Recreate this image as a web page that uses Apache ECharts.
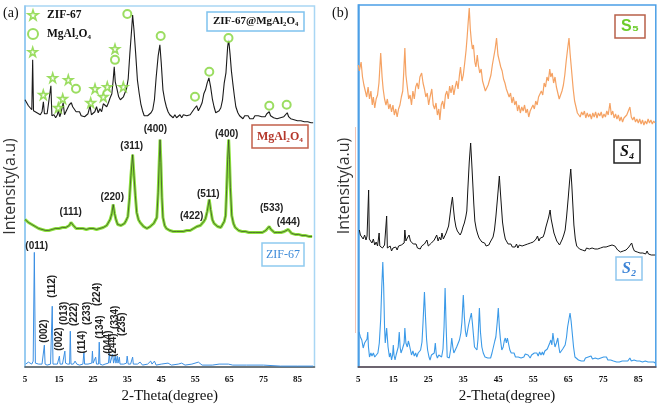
<!DOCTYPE html>
<html>
<head>
<meta charset="utf-8">
<script src="https://cdn.jsdelivr.net/npm/echarts@6/dist/echarts.min.js"></script>
<style>html,body{margin:0;padding:0;background:#fff}#c{width:661px;height:409px}</style>
</head>
<body>
<div id="c"></div>
<script>
// ---------- DATA (2-Theta in degrees, intensity in a.u. incl. stacking offset) ----------
const xTicks = [5, 15, 25, 35, 45, 55, 65, 75, 85];

// Panel (a) : ZIF-67@MgAl2O4 (black)
const patZifMg = [[5,268],[5.5,266],[6,262],[6.5,261],[7,258],[7.25,308],[7.5,257],[8,258],[8.5,255],[9,256],[9.5,253],[10,256],[10.4,266],[10.7,254],[11,252],[11.5,254],[12,253],[12.6,282],[12.9,252],[13.5,253],[14,250],[14.5,253],[14.8,257],[15.2,251],[15.6,255],[16.2,265],[16.6,253],[17,256],[17.5,258],[18,263],[18.6,265],[19,261],[19.5,259],[20,256],[20.5,254],[21,256],[21.5,252],[22,254],[22.5,251],[23,252],[23.5,254],[24.1,262],[24.5,253],[25,252],[25.5,256],[26,261],[26.5,255],[27,259],[27.5,256],[28,264],[28.5,266],[29,261],[29.5,265],[30,270],[30.5,274],[30.9,288],[31.2,301],[31.5,286],[32,279],[32.5,271],[33,268],[33.5,267],[33.9,271],[34.3,273],[34.8,279],[35.3,289],[35.8,315],[36.3,338],[36.6,353],[37,338],[37.5,314],[38,288],[38.5,275],[39,264],[39.5,257],[40,252],[40.5,250],[41,252],[41.5,251],[42,255],[42.5,258],[43,268],[43.5,290],[44.1,312],[44.6,323],[45,305],[45.5,278],[46,268],[46.5,261],[47,256],[47.5,253],[48,253],[48.5,250],[49,253],[49.5,250],[50,252],[50.5,253],[51,250],[51.5,253],[52,251],[52.5,252],[53,250],[53.5,253],[54,255],[54.5,258],[55,260],[55.4,262],[55.9,257],[56.5,261],[57,265],[57.5,274],[58,278],[58.5,285],[59,290],[59.5,281],[60,269],[60.5,261],[61,255],[61.5,254],[62,257],[62.5,260],[63,268],[63.5,285],[64,295],[64.5,321],[64.8,328],[65.2,314],[65.6,297],[66,285],[66.5,271],[66.9,261],[67.5,255],[68,252],[68.5,250],[69,249],[69.5,252],[70,250],[70.5,252],[71,249],[71.5,251],[72,249],[72.5,252],[73,250],[73.5,252],[74,254],[74.5,251],[75,252],[75.5,251],[76,254],[76.7,256],[77.1,252],[77.5,254],[78,250],[78.5,251],[79,249],[79.5,251],[80,250],[80.5,252],[81,251],[81.5,253],[82,255],[82.4,251],[83,249],[83.5,250],[84,248],[84.5,249],[85,247],[85.5,248],[86,247],[86.5,248],[87,246],[87.5,247],[88,246],[88.5,246],[89,245],[89.6,245]];

// Panel (a) : MgAl2O4 (green)
const patSpinel = [[5,148],[5.5,147],[6,145],[6.5,146],[7,143],[7.5,144],[8,141],[8.5,142],[9,139],[9.5,141],[10,138],[10.5,139],[11,137],[11.5,139],[12,137],[12.5,139],[13,138],[13.5,136],[14,139],[14.5,137],[15,139],[15.5,138],[16,140],[16.5,138],[17,140],[17.5,141],[18,142],[18.5,145],[18.8,146],[19.2,142],[19.6,140],[20,139],[20.5,137],[21,139],[21.5,137],[22,139],[22.5,137],[23,138],[23.5,136],[24,139],[24.5,137],[25,139],[25.5,137],[26,138],[26.5,137],[27,139],[27.5,138],[28,140],[28.5,141],[29,142],[29.5,144],[30,148],[30.5,154],[30.9,163],[31.3,154],[31.7,148],[32.2,143],[32.7,141],[33.2,142],[33.7,142],[34.2,144],[34.7,147],[35.2,151],[35.7,170],[36.1,192],[36.6,213],[37,192],[37.4,172],[37.8,155],[38.3,148],[38.8,145],[39.3,143],[39.8,141],[40.3,140],[40.8,139],[41.3,140],[41.8,141],[42.3,142],[42.8,144],[43.3,146],[43.7,150],[44.1,175],[44.4,205],[44.65,228],[44.9,205],[45.2,170],[45.5,150],[46,142],[46.5,139],[47,138],[47.5,137],[48,138],[48.5,136],[49,137],[49.5,136],[50,137],[50.5,136],[51,137],[51.5,136],[52,138],[52.5,137],[53,138],[53.5,137],[54,138],[54.5,139],[55,139],[55.5,141],[56,141],[56.5,142],[57,143],[57.5,146],[58,149],[58.5,156],[59.1,168],[59.5,158],[60,148],[60.5,144],[61,142],[61.5,141],[62,140],[62.5,140],[63,142],[63.5,146],[63.9,152],[64.2,178],[64.5,208],[64.8,228],[65.05,208],[65.3,180],[65.7,152],[66.2,144],[66.7,140],[67.2,138],[67.7,137],[68.2,136],[68.7,136],[69.2,135],[69.7,136],[70.2,135],[70.7,135],[71.2,134],[71.7,135],[72.2,134],[72.7,135],[73.2,134],[73.7,135],[74.2,135],[74.7,135],[75.2,136],[75.7,137],[76.2,139],[76.7,141],[77.2,138],[77.7,136],[78.2,135],[78.7,134],[79.2,135],[79.7,134],[80.2,135],[80.7,135],[81.2,136],[81.7,137],[82.3,138],[82.8,136],[83.3,134],[83.8,133],[84.3,133],[84.8,132],[85.3,133],[85.8,132],[86.3,132],[86.8,131],[87.3,132],[87.8,131],[88.3,131],[88.8,131],[89.3,131]];

// Panel (a) : ZIF-67 (blue)
const patZif = [[5.2,3],[6,5],[6.5,4],[7,3],[7.4,6],[7.74,115],[8.05,4],[8.5,3],[9,3],[9.5,2],[10,3],[10.45,3],[10.68,22],[10.9,3],[11.5,2],[12,3],[12.5,3],[12.78,3],[13.0,61],[13.22,3],[13.8,2],[14.5,3],[14.9,3],[15.1,11],[15.3,3],[16.0,3],[16.5,4],[16.7,16],[16.9,4],[17.5,3],[18.1,3],[18.3,36],[18.5,3],[19.2,3],[19.7,6],[20.2,3],[21,2],[22,3],[22.3,15],[22.5,3],[23.5,3],[24.6,4],[24.8,16],[25,4],[25.5,3],[25.75,10],[26,3],[26.6,3],[26.8,25],[27,3],[27.8,2],[28.5,3],[29.5,4],[29.76,14],[30,4],[30.5,4],[30.74,13],[31,4],[31.3,4],[31.5,11],[31.7,4],[31.9,4],[32.1,11],[32.3,4],[32.5,4],[32.7,10],[32.9,3],[34,3],[34.8,4],[35,11],[35.3,3],[36,3],[36.4,4],[36.6,10],[36.8,3],[38,3],[38.8,5],[39.5,2],[41,3],[41.9,6],[42.3,3],[43,6],[43.5,2],[45,3],[47,4],[48,2],[50,3],[51,4],[52,2],[54,3],[55.9,5],[57,2],[60,2],[62,3],[64.7,3],[66,2],[70,2],[75,2],[80,1],[85,1],[89.6,1]];

// Panel (a) annotations
const zifStarAt = [[7.26,316],[10.37,273],[13.13,290],[14.78,260],[16.07,269],[17.71,288],[24.29,265],[25.55,279],[27.99,271],[29.16,281],[31.42,319],[33.86,281]];
const spinelCircleAt = [[19.97,279],[31.42,308],[35.04,354],[44.84,332],[54.91,271],[59.11,296],[64.75,330],[76.73,262],[81.83,263]];
const spinelHkl = ['(111)','(220)','(311)','(400)','(422)','(511)','(400)','(533)','(444)'];
const spinelHklAt = [[18.42,155],[30.63,170],[36.33,221],[43.3,238],[53.94,151],[58.82,173],[64.22,233],[77.43,159],[82.31,145]];
const zifHkl = ['(011)','(002)','(112)','(002)','(013)','(222)','(114)','(233)','(224)','(134)','(044)','(244)','(334)','(235)'];
const zifHklAt = [[8.44,121],[10.67,36],[13.02,81],[14.98,28],[16.54,54],[19.39,53],[21.94,25],[23.41,54],[26.23,73],[27.02,40],[29.46,25],[30.84,22],[31.42,50],[33.68,43]];

// Panel (b) : S5 (orange)
const patS5 = [[5,302],[5.3,296],[5.8,305],[6.2,290],[6.6,282],[7,276],[7.4,270],[7.8,280],[8.2,268],[8.6,276],[9,262],[9.3,270],[9.7,259],[10.1,268],[10.5,272],[10.9,284],[11.4,314],[11.8,290],[12.1,278],[12.5,268],[12.9,262],[13.3,268],[13.7,258],[14.1,263],[14.5,255],[14.9,262],[15.3,252],[15.7,258],[16.1,250],[16.5,258],[16.9,262],[17.3,270],[17.7,276],[18,296],[18.3,319],[18.6,292],[19,280],[19.4,268],[19.8,272],[20.2,262],[20.6,276],[21,268],[21.4,280],[21.8,284],[22.2,278],[22.6,290],[23.1,294],[23.5,284],[23.9,278],[24.3,270],[24.7,274],[25.1,262],[25.5,270],[26,278],[26.4,262],[26.8,258],[27.2,264],[27.6,252],[28,258],[28.3,247],[28.7,262],[29.1,266],[29.5,258],[29.9,272],[30.3,276],[30.7,268],[31.1,281],[31.5,274],[31.9,282],[32.3,272],[32.7,280],[33.1,286],[33.5,278],[33.9,292],[34.2,300],[34.6,286],[35,292],[35.4,304],[35.8,317],[36.1,330],[36.4,345],[36.7,359],[37,338],[37.3,326],[37.6,318],[37.9,322],[38.3,305],[38.6,300],[39,312],[39.3,302],[39.7,294],[40.1,298],[40.5,286],[40.9,284],[41.3,276],[41.7,274],[42.1,282],[42.5,284],[42.9,292],[43.3,302],[43.7,310],[44.1,318],[44.5,329],[44.9,312],[45.3,306],[45.7,300],[46.1,296],[46.5,288],[46.9,284],[47.3,278],[47.7,280],[48.1,270],[48.5,274],[48.9,264],[49.3,270],[49.7,262],[50.1,266],[50.5,256],[50.9,262],[51.3,254],[51.7,260],[52.1,256],[52.5,262],[52.9,254],[53.3,258],[53.7,250],[54.1,256],[54.5,258],[54.9,262],[55.3,258],[55.7,266],[56.1,262],[56.5,270],[56.9,268],[57.3,276],[57.7,272],[58.1,284],[58.5,280],[58.9,290],[59.3,286],[59.7,298],[60,290],[60.4,294],[60.8,284],[61.2,290],[61.6,280],[62,278],[62.4,268],[62.8,270],[63.2,276],[63.6,282],[64,292],[64.4,306],[64.8,318],[65.2,329],[65.5,314],[65.8,302],[66.1,290],[66.4,278],[66.8,266],[67.2,260],[67.6,254],[68,256],[68.4,250],[68.8,255],[69.2,252],[69.6,256],[70,249],[70.4,254],[70.8,250],[71.2,253],[71.6,248],[72,254],[72.4,250],[72.8,255],[73.2,249],[73.6,254],[74,251],[74.4,255],[74.8,249],[75.2,253],[75.6,250],[76,256],[76.4,252],[76.9,264],[77.3,252],[77.7,256],[78.1,249],[78.5,253],[78.9,248],[79.3,252],[79.7,246],[80.1,250],[80.5,245],[80.9,249],[81.3,247],[81.7,252],[82.1,250],[82.6,260],[83,250],[83.4,247],[83.8,250],[84.2,245],[84.6,248],[85,244],[85.4,248],[85.8,243],[86.2,247],[86.6,242],[87,246],[87.4,243],[87.8,248],[88.2,244],[88.6,247],[89,243],[89.4,246],[89.8,244]];

// Panel (b) : S4 (black)
const patS4 = [[5.3,137],[5.6,132],[6,134],[6.4,128],[6.8,132],[7.2,127],[7.5,131],[7.75,130],[7.95,177],[8.15,128],[8.5,130],[8.9,124],[9.3,128],[9.7,122],[10.1,125],[10.5,121],[10.75,122],[10.95,134],[11.15,121],[11.5,123],[11.9,119],[12.5,122],[12.9,120],[13.1,151],[13.3,119],[13.7,118],[14.1,121],[14.5,116],[14.9,119],[15.3,117],[15.7,120],[16.1,117],[16.5,121],[16.9,119],[17.3,122],[17.7,121],[18.1,124],[18.3,137],[18.6,126],[19,129],[19.5,132],[19.9,126],[20.3,127],[20.7,123],[21.1,121],[21.5,123],[21.9,119],[22.3,121],[22.7,118],[23.1,121],[23.5,119],[23.9,123],[24.3,121],[24.6,127],[25,121],[25.5,120],[25.9,124],[26.3,122],[26.7,127],[27.1,125],[27.4,132],[27.8,126],[28.2,130],[28.6,127],[28.9,134],[29.3,128],[29.7,131],[30.1,134],[30.4,136],[30.8,141],[31.2,152],[31.55,162],[31.9,170],[32.2,158],[32.5,148],[32.9,140],[33.3,136],[33.7,134],[34.1,132],[34.5,135],[34.9,140],[35.3,144],[35.7,150],[36,156],[36.3,178],[36.7,205],[37.1,224],[37.4,205],[37.7,184],[38,163],[38.3,146],[38.7,138],[39.1,133],[39.5,129],[39.9,127],[40.3,125],[40.7,123],[41.1,124],[41.5,121],[41.9,123],[42.3,122],[42.7,125],[43.1,127],[43.5,130],[43.9,137],[44.3,150],[44.8,170],[45.3,191],[45.6,175],[45.9,160],[46.2,145],[46.6,135],[47,128],[47.4,126],[47.8,123],[48.2,122],[48.6,123],[49,120],[49.4,122],[49.8,120],[50.2,123],[50.6,119],[51,122],[51.4,120],[51.8,121],[52.2,119],[52.6,122],[53,120],[53.4,123],[53.8,121],[54.2,124],[54.6,122],[55,125],[55.4,124],[55.8,128],[56.2,131],[56.6,126],[57,129],[57.4,127],[57.8,130],[58.2,134],[58.6,140],[59,145],[59.4,150],[59.8,157],[60.1,148],[60.5,141],[60.9,134],[61.3,130],[61.7,126],[62.1,124],[62.5,122],[62.9,125],[63.3,128],[63.7,132],[64.1,137],[64.5,150],[65,170],[65.35,185],[65.7,198],[66,182],[66.3,162],[66.6,142],[67,128],[67.4,121],[67.8,119],[68.2,118],[68.6,120],[69,117],[69.4,118],[69.8,116],[70.2,119],[70.6,117],[71,118],[71.4,116],[71.8,119],[72.2,117],[72.6,118],[73,116],[73.4,118],[73.8,117],[74.2,119],[74.6,117],[75,120],[75.4,118],[75.8,120],[76.2,119],[76.6,121],[77,120],[77.5,122],[77.9,124],[78.3,121],[78.7,119],[79.1,117],[79.5,116],[79.9,115],[80.3,117],[80.7,116],[81.1,118],[81.5,117],[81.9,119],[82.3,120],[82.7,122],[83.1,124],[83.5,119],[83.9,116],[84.3,117],[84.7,115],[85.1,116],[85.5,114],[85.9,116],[86.3,114],[86.7,115],[87.1,113],[87.5,116],[87.9,113],[88.3,114],[88.7,112],[89.1,114],[89.5,112],[89.8,112]];

// Panel (b) : S2 (blue)
const patS2 = [[5.2,35],[5.6,30],[6,27],[6.4,19],[6.8,24],[7.2,24],[7.5,28],[7.7,35],[7.9,20],[8.2,10],[8.6,14],[8.9,11],[9.3,14],[9.7,10],[10.2,10],[10.6,14],[11,24],[11.4,48],[11.7,80],[12,105],[12.25,80],[12.5,40],[12.7,24],[13.1,39],[13.5,20],[13.9,10],[14.2,14],[14.5,7],[14.8,12],[15,22],[15.2,12],[15.5,7],[15.8,12],[16.1,14],[16.4,20],[16.7,35],[16.95,20],[17.2,14],[17.6,18],[17.9,17],[18.1,24],[18.3,39],[18.6,24],[19,20],[19.3,26],[19.6,22],[19.9,17],[20.2,12],[20.6,16],[21,11],[21.4,14],[21.7,10],[22.1,14],[22.5,12],[22.8,17],[23.2,25],[23.5,45],[23.9,75],[24.2,50],[24.5,28],[24.8,17],[25.2,10],[25.5,7],[25.9,12],[26.4,10],[26.7,14],[27,24],[27.3,12],[27.6,9],[28,12],[28.4,10],[28.8,10],[29.2,18],[29.5,40],[29.8,79],[30.1,40],[30.4,10],[30.7,12],[31,9],[31.4,18],[31.7,29],[32,20],[32.3,14],[32.7,16],[33.1,20],[33.5,18],[33.9,27],[34.3,34],[34.6,45],[35,72],[35.3,50],[35.6,36],[35.9,30],[36.2,36],[36.5,42],[36.9,48],[37.3,54],[37.6,44],[37.9,32],[38.2,20],[38.6,18],[38.9,17],[39.2,28],[39.6,59],[39.9,35],[40.3,20],[40.7,14],[41.2,10],[41.6,12],[42,9],[42.4,11],[42.8,9],[43.2,14],[43.6,20],[44,26],[44.3,30],[44.7,45],[45,59],[45.3,40],[45.6,28],[46,17],[46.4,20],[46.7,26],[47,29],[47.3,24],[47.6,29],[48,22],[48.3,17],[48.7,14],[49.1,12],[49.5,14],[49.9,10],[50.3,12],[50.7,10],[51.1,12],[51.5,9],[51.9,11],[52.3,10],[52.7,13],[53.1,15],[53.5,12],[53.8,10],[54.1,9],[54.5,12],[54.9,10],[55.3,14],[55.6,12],[56,14],[56.4,11],[56.8,15],[57.2,12],[57.6,15],[57.9,12],[58.3,16],[58.7,15],[59,18],[59.3,20],[59.7,24],[60,27],[60.3,22],[60.6,34],[60.9,26],[61.2,20],[61.6,24],[62,29],[62.3,20],[62.6,14],[63,16],[63.4,18],[63.8,20],[64.1,22],[64.5,30],[64.8,40],[65.2,48],[65.5,54],[65.8,46],[66.1,35],[66.5,20],[66.9,10],[67.3,8],[67.9,7],[68.3,9],[68.7,6],[69.1,8],[69.5,6],[69.9,9],[70.3,7],[70.7,10],[71.1,8],[71.5,11],[71.9,8],[72.3,7],[72.7,9],[73.1,7],[73.5,8],[73.9,6],[74.3,9],[74.7,7],[75.1,10],[75.5,8],[75.9,10],[76.3,7],[76.7,9],[77.1,7],[77.5,9],[77.9,6],[78.3,8],[78.8,5],[79.2,7],[79.6,5],[80,7],[80.4,6],[80.8,8],[81.2,6],[81.6,7],[82,6],[82.6,9],[83,6],[83.4,5],[83.8,7],[84.2,5],[84.6,6],[85,4],[85.4,6],[85.8,4],[86.2,5],[86.6,4],[87,6],[87.4,4],[87.8,5],[88.2,4],[88.6,5],[89,4],[89.4,5],[89.8,4]];

// ---------- CHART ----------
const GREEN = '#82d43a';
const STAR = 'path://M50,2 L61,37 L98,37 L68,59 L79,95 L50,73 L21,95 L32,59 L2,37 L39,37 Z';
const serif = '"Liberation Serif","DejaVu Serif",serif';
const sans = '"Liberation Sans","DejaVu Sans",sans-serif';

function xAxisOf(gi, lineColor) {
  return {
    gridIndex: gi, type: 'value', min: 5, max: 90, interval: 10,
    axisLine: { show: true, onZero: false, lineStyle: { color: lineColor, width: 1.5 } },
    axisTick: { show: false }, splitLine: { show: false },
    axisLabel: { showMaxLabel: false, margin: 8, color: '#111', fontFamily: serif, fontWeight: 'bold', fontSize: 9 },
    name: '2-Theta(degree)', nameLocation: 'middle', nameGap: 18,
    nameTextStyle: { fontFamily: serif, fontSize: 15, color: '#111' }
  };
}
function yAxisOf(gi, lineColor, gap) {
  return {
    gridIndex: gi, type: 'value', min: 0, max: 362,
    axisLine: { show: true, onZero: false, lineStyle: { color: lineColor, width: 1.5 } },
    axisTick: { show: false }, axisLabel: { show: false }, splitLine: { show: false },
    name: 'Intensity(a.u)', nameLocation: 'middle', nameGap: gap,
    nameTextStyle: { fontFamily: '"Open Sans","Noto Sans",sans-serif', fontSize: 16, color: '#333' }
  };
}
function line(name, data, gi, color, width, z) {
  return { name, type: 'line', xAxisIndex: gi, yAxisIndex: gi, data, showSymbol: false, symbol: 'none',
    lineStyle: { color, width }, itemStyle: { color }, z: z || 2, silent: true };
}
function boxTitle(text, left, top, color, border, font, extra) {
  return Object.assign({ text, left, top, padding: [4, 6], borderColor: border, borderWidth: 1.5, backgroundColor: '#fff',
    textStyle: Object.assign({ color, fontFamily: serif, fontSize: 12, fontWeight: 'bold', lineHeight: 15 }, font || {}) }, extra || {});
}
const hklLabel = { show: true, position: 'inside', formatter: '{b}', color: '#222', fontFamily: sans, fontWeight: 'bold', fontSize: 10, opacity: 1 };

const chart = echarts.init(document.getElementById('c'), null, { renderer: 'canvas' });
chart.setOption({
  animation: false,
  backgroundColor: '#fff',
  grid: [
    { left: 25, right: 346.5, top: 6, bottom: 41, show: true, borderColor: '#a9d6f4', borderWidth: 1.5 },
    { left: 358.3, right: 5.2, top: 5, bottom: 42, show: true, borderColor: '#4b9fe6', borderWidth: 1.5 }
  ],
  xAxis: [xAxisOf(0, '#555'), xAxisOf(1, '#6a4a45')],
  yAxis: [yAxisOf(0, '#8cc6ef', 7), yAxisOf(1, '#4b9fe6', 6)],
  legend: {
    orient: 'vertical', left: 22, top: 4, itemWidth: 10, itemHeight: 10, itemGap: 7,
    textStyle: { fontFamily: serif, fontWeight: 'bold', fontSize: 11.5, color: '#111', padding: [0, 0, 0, 4] },
    data: [
      { name: 'ZIF-67', icon: STAR, itemStyle: { color: '#fff', borderColor: GREEN, borderWidth: 1.6 } },
      { name: 'MgAl₂O₄', icon: 'circle', itemStyle: { color: '#fff', borderColor: GREEN, borderWidth: 2 } }
    ]
  },
  title: [
    { text: '(a)', left: 3, top: 6, padding: 0, textStyle: { fontFamily: serif, fontSize: 14, fontWeight: 'normal', color: '#111' } },
    { text: '(b)', left: 332, top: 6, padding: 0, textStyle: { fontFamily: serif, fontSize: 14, fontWeight: 'normal', color: '#111' } },
    boxTitle('ZIF-67@MgAl₂O₄', 207, 12, '#111', '#7fc2ee', { fontSize: 11 }, { padding: [2, 6] }),
    boxTitle('MgAl₂O₄', 252, 125, '#b5382b', '#c2604b', { fontSize: 12 }, { padding: [4, 5] }),
    boxTitle('ZIF-67', 262, 243, '#3c8ad8', '#8fcaf0', { fontSize: 12, fontWeight: 'normal' }, { padding: [4, 4] }),
    boxTitle('S₅', 615, 15, '#6ccc2a', '#b8604a', { fontFamily: sans, fontSize: 16 }, { padding: [4, 6] }),
    boxTitle('S₄', 614, 140, '#111', '#222', { fontSize: 16, fontStyle: 'italic' }, { padding: [4, 6] }),
    boxTitle('S₂', 616, 257, '#3d84d6', '#8ec6ee', { fontSize: 16, fontStyle: 'italic' }, { padding: [4, 6] })
  ],
  graphic: [
    { type: 'line', shape: { x1: 355.5, y1: 127, x2: 355.5, y2: 333 }, style: { stroke: '#f6c4b3', lineWidth: 1 }, silent: true }
  ],
  series: [
    line('ZIF-67@MgAl₂O₄ pattern', patZifMg, 0, '#1b1b1b', 1.1, 3),
    line('MgAl₂O₄ pattern', patSpinel, 0, '#8ee33e', 3, 2),
    line('MgAl₂O₄ pattern core', patSpinel, 0, '#2f3f24', 0.7, 3),
    line('ZIF-67 pattern', patZif, 0, '#3b8fe3', 1, 3),
    line('S5', patS5, 1, '#f5a263', 1.2, 3),
    line('S4', patS4, 1, '#141414', 1, 3),
    line('S2', patS2, 1, '#3b9ae8', 1.1, 3),
    {
      name: 'ZIF-67', type: 'scatter', xAxisIndex: 0, yAxisIndex: 0, data: zifStarAt, symbol: STAR, symbolSize: 9,
      itemStyle: { color: '#fff', borderColor: GREEN, borderWidth: 1.6 }, z: 5, silent: true
    },
    {
      name: 'MgAl₂O₄', type: 'scatter', xAxisIndex: 0, yAxisIndex: 0, data: spinelCircleAt, symbol: 'circle', symbolSize: 8,
      itemStyle: { color: '#fff', borderColor: GREEN, borderWidth: 2 }, z: 5, silent: true
    },
    {
      name: 'spinel hkl', type: 'scatter', xAxisIndex: 0, yAxisIndex: 0, symbolSize: 1, itemStyle: { color: 'rgba(0,0,0,0)' },
      data: spinelHkl.map((t, i) => ({ name: t, value: spinelHklAt[i] })),
      label: hklLabel, z: 6, silent: true
    },
    {
      name: 'zif hkl', type: 'scatter', xAxisIndex: 0, yAxisIndex: 0, symbolSize: 1, itemStyle: { color: 'rgba(0,0,0,0)' },
      data: zifHkl.map((t, i) => (i === 0 ? { name: t, value: zifHklAt[i], label: { rotate: 0 } } : { name: t, value: zifHklAt[i] })),
      label: Object.assign({}, hklLabel, { rotate: 90 }), z: 6, silent: true
    }
  ]
});
</script>
</body>
</html>
